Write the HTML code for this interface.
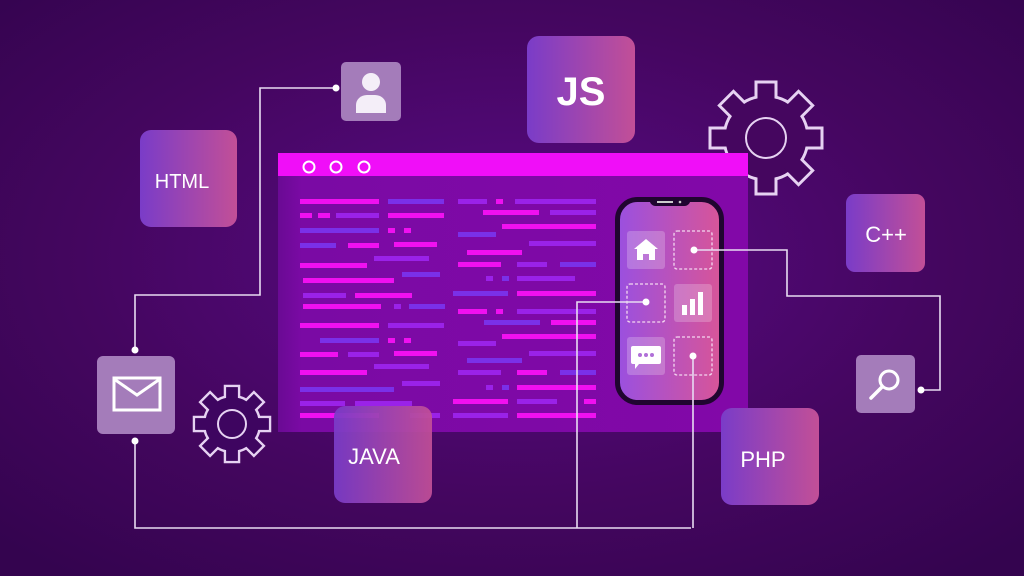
<!DOCTYPE html>
<html><head><meta charset="utf-8"><style>
html,body{margin:0;padding:0;width:1024px;height:576px;overflow:hidden;background:#3e0560}
svg{display:block}
text{font-family:"Liberation Sans",sans-serif;fill:#fff}
</style></head><body>
<svg width="1024" height="576" viewBox="0 0 1024 576">
<defs>
<radialGradient id="bg" cx="0.5" cy="0.45" r="0.7">
<stop offset="0" stop-color="#5a0a86"/><stop offset="0.6" stop-color="#44065f"/><stop offset="1" stop-color="#34044f"/>
</radialGradient>
<linearGradient id="card" x1="0" x2="1" y1="0" y2="0">
<stop offset="0" stop-color="#7a3cc8"/><stop offset="1" stop-color="#c24f97"/>
</linearGradient>
<linearGradient id="phone" x1="0" x2="1">
<stop offset="0" stop-color="#9a50e0"/><stop offset="1" stop-color="#d85598"/>
</linearGradient>
<linearGradient id="win" x1="0" x2="1">
<stop offset="0" stop-color="#6a0a94"/><stop offset="0.05" stop-color="#7a0aa4"/><stop offset="1" stop-color="#8208a8"/>
</linearGradient>
</defs>
<rect width="1024" height="576" fill="url(#bg)"/>

<!-- big gear -->
<g transform="translate(766,138)">
<g stroke="#e6d2f2" stroke-width="3" fill="#45065f">
<circle r="42"/>
<rect x="-10" y="-56" width="20" height="20" transform="rotate(0)"/>
<rect x="-10" y="-56" width="20" height="20" transform="rotate(45)"/>
<rect x="-10" y="-56" width="20" height="20" transform="rotate(90)"/>
<rect x="-10" y="-56" width="20" height="20" transform="rotate(135)"/>
<rect x="-10" y="-56" width="20" height="20" transform="rotate(180)"/>
<rect x="-10" y="-56" width="20" height="20" transform="rotate(225)"/>
<rect x="-10" y="-56" width="20" height="20" transform="rotate(270)"/>
<rect x="-10" y="-56" width="20" height="20" transform="rotate(315)"/>
</g>
<g fill="#45065f">
<circle r="40.5"/>
<rect x="-8.5" y="-54.5" width="17" height="20" transform="rotate(0)"/>
<rect x="-8.5" y="-54.5" width="17" height="20" transform="rotate(45)"/>
<rect x="-8.5" y="-54.5" width="17" height="20" transform="rotate(90)"/>
<rect x="-8.5" y="-54.5" width="17" height="20" transform="rotate(135)"/>
<rect x="-8.5" y="-54.5" width="17" height="20" transform="rotate(180)"/>
<rect x="-8.5" y="-54.5" width="17" height="20" transform="rotate(225)"/>
<rect x="-8.5" y="-54.5" width="17" height="20" transform="rotate(270)"/>
<rect x="-8.5" y="-54.5" width="17" height="20" transform="rotate(315)"/>
</g>
<circle r="20" fill="none" stroke="#e6d2f2" stroke-width="2"/>
</g>

<!-- small gear -->
<g transform="translate(232,424)">
<g stroke="#e6d2f2" stroke-width="2.5" fill="#3e0560">
<circle r="28"/>
<rect x="-7" y="-38" width="14" height="14"/>
<rect x="-7" y="-38" width="14" height="14" transform="rotate(45)"/>
<rect x="-7" y="-38" width="14" height="14" transform="rotate(90)"/>
<rect x="-7" y="-38" width="14" height="14" transform="rotate(135)"/>
<rect x="-7" y="-38" width="14" height="14" transform="rotate(180)"/>
<rect x="-7" y="-38" width="14" height="14" transform="rotate(225)"/>
<rect x="-7" y="-38" width="14" height="14" transform="rotate(270)"/>
<rect x="-7" y="-38" width="14" height="14" transform="rotate(315)"/>
</g>
<g fill="#3e0560">
<circle r="26.8"/>
<rect x="-5.8" y="-36.8" width="11.6" height="14"/>
<rect x="-5.8" y="-36.8" width="11.6" height="14" transform="rotate(45)"/>
<rect x="-5.8" y="-36.8" width="11.6" height="14" transform="rotate(90)"/>
<rect x="-5.8" y="-36.8" width="11.6" height="14" transform="rotate(135)"/>
<rect x="-5.8" y="-36.8" width="11.6" height="14" transform="rotate(180)"/>
<rect x="-5.8" y="-36.8" width="11.6" height="14" transform="rotate(225)"/>
<rect x="-5.8" y="-36.8" width="11.6" height="14" transform="rotate(270)"/>
<rect x="-5.8" y="-36.8" width="11.6" height="14" transform="rotate(315)"/>
</g>
<circle r="14" fill="none" stroke="#e6d2f2" stroke-width="2"/>
</g>

<!-- window -->
<rect x="278" y="153" width="470" height="279" fill="url(#win)"/>
<rect x="278" y="153" width="470" height="23" fill="#f00ef8"/>
<g fill="none" stroke="#fff" stroke-width="2">
<circle cx="309" cy="167" r="5.5"/><circle cx="336" cy="167" r="5.5"/><circle cx="364" cy="167" r="5.5"/>
</g>
<!-- code lines -->
<g>
<rect x="300" y="199" width="79" height="5" fill="#f010f0"/><rect x="388" y="199" width="56" height="5" fill="#7a30e8"/><rect x="458" y="199" width="29" height="5" fill="#9a22e8"/><rect x="496" y="199" width="7" height="5" fill="#f010f0"/><rect x="515" y="199" width="81" height="5" fill="#9a22e8"/>
<rect x="300" y="213" width="12" height="5" fill="#f010f0"/><rect x="318" y="213" width="12" height="5" fill="#f010f0"/><rect x="336" y="213" width="43" height="5" fill="#9a22e8"/><rect x="388" y="213" width="56" height="5" fill="#f010f0"/><rect x="483" y="210" width="56" height="5" fill="#f010f0"/><rect x="550" y="210" width="46" height="5" fill="#9a22e8"/>
<rect x="300" y="228" width="79" height="5" fill="#7a30e8"/><rect x="388" y="228" width="7" height="5" fill="#f010f0"/><rect x="404" y="228" width="7" height="5" fill="#f010f0"/><rect x="502" y="224" width="94" height="5" fill="#f010f0"/>
<rect x="458" y="232" width="38" height="5" fill="#7a30e8"/>
<rect x="300" y="243" width="36" height="5" fill="#7a30e8"/><rect x="348" y="243" width="31" height="5" fill="#f010f0"/><rect x="394" y="242" width="43" height="5" fill="#f010f0"/><rect x="529" y="241" width="67" height="5" fill="#9a22e8"/>
<rect x="374" y="256" width="55" height="5" fill="#9a22e8"/><rect x="467" y="250" width="55" height="5" fill="#f010f0"/>
<rect x="300" y="263" width="67" height="5" fill="#f010f0"/><rect x="458" y="262" width="43" height="5" fill="#f010f0"/><rect x="517" y="262" width="30" height="5" fill="#9a22e8"/><rect x="560" y="262" width="36" height="5" fill="#7a30e8"/>
<rect x="402" y="272" width="38" height="5" fill="#7a30e8"/><rect x="486" y="276" width="7" height="5" fill="#9a22e8"/><rect x="502" y="276" width="7" height="5" fill="#7a30e8"/><rect x="517" y="276" width="58" height="5" fill="#9a22e8"/>
<rect x="303" y="278" width="91" height="5" fill="#f010f0"/>
<rect x="303" y="293" width="43" height="5" fill="#9a22e8"/><rect x="355" y="293" width="57" height="5" fill="#f010f0"/><rect x="453" y="291" width="55" height="5" fill="#7a30e8"/><rect x="517" y="291" width="79" height="5" fill="#f010f0"/>
<rect x="303" y="304" width="78" height="5" fill="#f010f0"/><rect x="394" y="304" width="7" height="5" fill="#9a22e8"/><rect x="409" y="304" width="36" height="5" fill="#7a30e8"/><rect x="458" y="309" width="29" height="5" fill="#f010f0"/><rect x="496" y="309" width="7" height="5" fill="#f010f0"/><rect x="517" y="309" width="79" height="5" fill="#9a22e8"/>
<rect x="484" y="320" width="56" height="5" fill="#7a30e8"/><rect x="551" y="320" width="45" height="5" fill="#f010f0"/>
<rect x="300" y="323" width="79" height="5" fill="#f010f0"/><rect x="388" y="323" width="56" height="5" fill="#9a22e8"/>
<rect x="502" y="334" width="94" height="5" fill="#f010f0"/>
<rect x="320" y="338" width="59" height="5" fill="#7a30e8"/><rect x="388" y="338" width="7" height="5" fill="#f010f0"/><rect x="404" y="338" width="7" height="5" fill="#f010f0"/><rect x="458" y="341" width="38" height="5" fill="#9a22e8"/>
<rect x="300" y="352" width="38" height="5" fill="#f010f0"/><rect x="348" y="352" width="31" height="5" fill="#9a22e8"/><rect x="394" y="351" width="43" height="5" fill="#f010f0"/><rect x="529" y="351" width="67" height="5" fill="#9a22e8"/>
<rect x="374" y="364" width="55" height="5" fill="#9a22e8"/><rect x="467" y="358" width="55" height="5" fill="#7a30e8"/>
<rect x="300" y="370" width="67" height="5" fill="#f010f0"/><rect x="458" y="370" width="43" height="5" fill="#9a22e8"/><rect x="517" y="370" width="30" height="5" fill="#f010f0"/><rect x="560" y="370" width="36" height="5" fill="#7a30e8"/>
<rect x="402" y="381" width="38" height="5" fill="#9a22e8"/><rect x="486" y="385" width="7" height="5" fill="#9a22e8"/><rect x="502" y="385" width="7" height="5" fill="#7a30e8"/><rect x="517" y="385" width="79" height="5" fill="#f010f0"/>
<rect x="300" y="387" width="94" height="5" fill="#7a30e8"/>
<rect x="300" y="401" width="45" height="5" fill="#9a22e8"/><rect x="355" y="401" width="57" height="5" fill="#9a22e8"/><rect x="453" y="399" width="55" height="5" fill="#f010f0"/><rect x="517" y="399" width="40" height="5" fill="#9a22e8"/><rect x="584" y="399" width="12" height="5" fill="#f010f0"/>
<rect x="300" y="413" width="79" height="5" fill="#f010f0"/><rect x="410" y="413" width="30" height="5" fill="#9a22e8"/><rect x="453" y="413" width="55" height="5" fill="#9a22e8"/><rect x="517" y="413" width="79" height="5" fill="#f010f0"/>
</g>

<!-- phone -->
<rect x="617.5" y="199.5" width="104" height="203" rx="20" fill="url(#phone)" stroke="#200530" stroke-width="5"/>
<path d="M650 198 h40 a6 6 0 0 1 -6 8 h-28 a6 6 0 0 1 -6 -8z" fill="#200530"/>
<rect x="657" y="201" width="16" height="2" fill="#ccc"/><circle cx="680" cy="202" r="1.3" fill="#ccc"/>
<g fill="rgba(255,255,255,0.22)">
<rect x="627" y="231" width="38" height="38" rx="3"/>
<rect x="674" y="284" width="38" height="38" rx="3"/>
<rect x="627" y="337" width="38" height="38" rx="3"/>
</g>
<g fill="none" stroke="#f4d8f0" stroke-width="1.3" stroke-dasharray="3 2">
<rect x="674" y="231" width="38" height="38" rx="3"/>
<rect x="627" y="284" width="38" height="38" rx="3"/>
<rect x="674" y="337" width="38" height="38" rx="3"/>
</g>
<g fill="#fff">
<path d="M634 249 l12 -10 l12 10 h-3 v11 h-6 v-6 h-6 v6 h-6 v-11z"/>
<rect x="682" y="305" width="5" height="10"/><rect x="690" y="299" width="5" height="16"/><rect x="698" y="292" width="5" height="23"/>
<path d="M633 346 h26 a2 2 0 0 1 2 2 v14 a2 2 0 0 1 -2 2 h-20 l-4 5 v-5 h-2 a2 2 0 0 1 -2 -2 v-14 a2 2 0 0 1 2 -2z"/>
</g>
<g fill="#b070d8"><circle cx="640" cy="355" r="2"/><circle cx="646" cy="355" r="2"/><circle cx="652" cy="355" r="2"/></g>

<!-- connectors -->
<g fill="none" stroke="#e8dcf2" stroke-width="1.6">
<polyline points="336,88 260,88 260,295 135,295 135,350"/>
<polyline points="135,441 135,528 691,528"/>
<polyline points="646,302 577,302 577,528"/>
<polyline points="693,356 693,528"/>
<polyline points="694,250 787,250 787,296 940,296 940,390 921,390"/>
</g>
<g fill="#fff">
<circle cx="694" cy="250" r="3.5"/><circle cx="646" cy="302" r="3.5"/><circle cx="693" cy="356" r="3.5"/>
</g>

<!-- cards -->
<rect x="140" y="130" width="97" height="97" rx="11" fill="url(#card)"/>
<text x="182" y="188" font-size="20" text-anchor="middle">HTML</text>
<rect x="527" y="36" width="108" height="107" rx="12" fill="url(#card)"/>
<text x="581" y="105" font-size="40" font-weight="bold" text-anchor="middle">JS</text>
<rect x="846" y="194" width="79" height="78" rx="9" fill="url(#card)"/>
<text x="886" y="242" font-size="22" text-anchor="middle">C++</text>
<rect x="334" y="406" width="98" height="97" rx="11" fill="url(#card)" opacity="0.93"/>
<text x="374" y="464" font-size="22" text-anchor="middle">JAVA</text>
<rect x="721" y="408" width="98" height="97" rx="11" fill="url(#card)"/>
<text x="763" y="467" font-size="22" text-anchor="middle">PHP</text>

<!-- icon cards -->
<rect x="341" y="62" width="60" height="59" rx="5" fill="#a47cba"/>
<circle cx="371" cy="82" r="9" fill="#f4eef8"/>
<path d="M356 113 v-8 a11 10 0 0 1 11 -10 h8 a11 10 0 0 1 11 10 v8z" fill="#f4eef8"/>
<rect x="97" y="356" width="78" height="78" rx="6" fill="#a47cba"/>
<rect x="114" y="378" width="46" height="32" fill="none" stroke="#fff" stroke-width="3"/>
<polyline points="114,379 137,395 160,379" fill="none" stroke="#fff" stroke-width="3"/>
<rect x="856" y="355" width="59" height="58" rx="5" fill="#a47cba"/>
<circle cx="889" cy="380" r="9" fill="none" stroke="#fff" stroke-width="3"/>
<line x1="882" y1="387" x2="871" y2="398" stroke="#fff" stroke-width="3.5" stroke-linecap="round"/>

<!-- dots -->
<g fill="#fff">
<circle cx="336" cy="88" r="3.5"/><circle cx="135" cy="350" r="3.5"/><circle cx="135" cy="441" r="3.5"/><circle cx="921" cy="390" r="3.5"/>
</g>
</svg>
</body></html>
